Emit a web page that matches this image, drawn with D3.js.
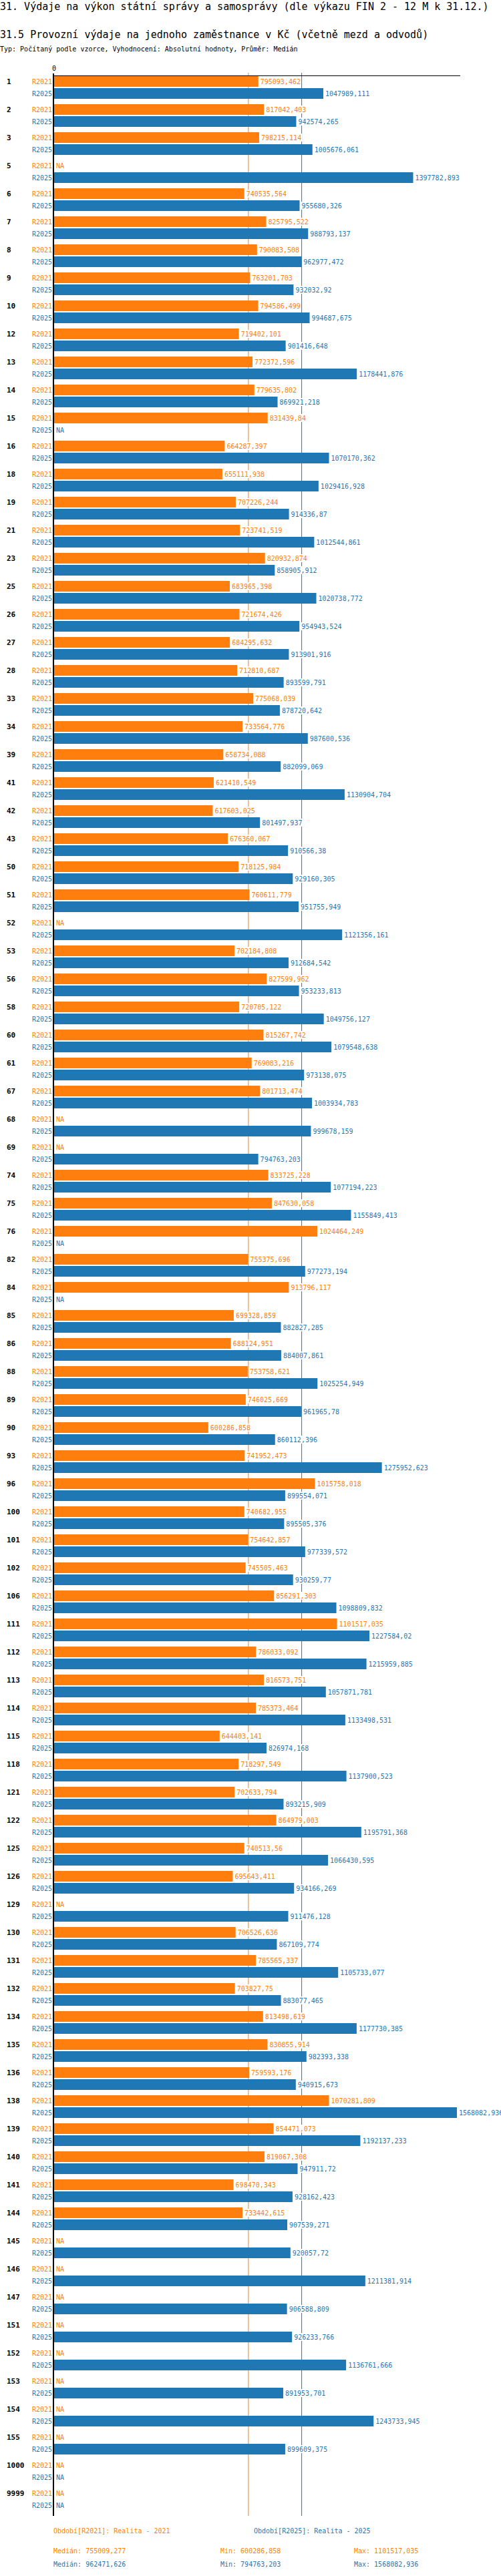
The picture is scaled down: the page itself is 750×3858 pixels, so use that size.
<!DOCTYPE html>
<html>
<head>
<meta charset="utf-8">
<script src="https://cdn.jsdelivr.net/npm/d3@7"></script>
<style>
  body { margin: 0; background: #fff; }
  text { font-family: "DejaVu Sans Mono", monospace; }
</style>
</head>
<body>
<div id="chart"></div>
<script>
// Category labels (obec ids) in the order shown
const groups = ["1","2","3","5","6","7","8","9","10","12","13","14","15","16","18","19","21","23",
  "25","26","27","28","33","34","39","41","42","43","50","51","52","53","56","58","60","61",
  "67","68","69","74","75","76","82","84","85","86","88","89","90","93","96","100","101","102",
  "106","111","112","113","114","115","118","121","122","125","126","129","130","131","132",
  "134","135","136","138","139","140","141","144","145","146","147","151","152","153","154",
  "155","1000","9999"];

// Series values, null = NA
const r2021 = [795093.462,817042.403,798215.114,null,740535.564,825795.522,790083.508,763201.703,
  794586.499,719402.101,772372.596,779635.802,831439.84,664287.397,655111.938,707226.244,
  723741.519,820932.874,683965.398,721674.426,684295.632,712810.687,775068.039,733564.776,
  658734.088,621410.549,617603.025,676360.067,718125.984,760611.779,null,702184.808,827599.962,
  720705.122,815267.742,769083.216,801713.474,null,null,833725.228,847630.058,1024464.249,
  755375.696,913796.117,699328.859,688124.951,753758.621,746025.669,600286.858,741952.473,
  1015758.018,740682.955,754642.857,745505.463,856291.303,1101517.035,786033.092,816573.751,
  785373.464,644403.141,718297.549,702633.794,864979.003,740513.56,695643.411,null,706526.636,
  785565.337,703827.75,813498.619,830855.914,759593.176,1070281.809,854471.073,819067.308,
  698470.343,733442.615,null,null,null,null,null,null,null,null,null,null];

const r2025 = [1047989.111,942574.265,1005676.061,1397782.893,955680.326,988793.137,962977.472,
  932032.92,994687.675,901416.648,1178441.876,869921.218,null,1070170.362,1029416.928,914336.87,
  1012544.861,858905.912,1020738.772,954943.524,913901.916,893599.791,878720.642,987600.536,
  882099.069,1130904.704,801497.937,910566.38,929160.305,951755.949,1121356.161,912684.542,
  953233.813,1049756.127,1079548.638,973138.075,1003934.783,999678.159,794763.203,1077194.223,
  1155849.413,null,977273.194,null,882827.285,884007.861,1025254.949,961965.78,860112.396,
  1275952.623,899554.071,895505.376,977339.572,930259.77,1098809.832,1227584.02,1215959.885,
  1057871.781,1133498.531,826974.168,1137900.523,893215.909,1195791.368,1066430.595,934166.269,
  911476.128,867109.774,1105733.077,883077.465,1177730.385,982393.338,940915.673,1568082.936,
  1192137.233,947911.72,928162.423,907539.271,920057.72,1211381.914,906588.809,926233.766,
  1136761.666,891953.701,1243733.945,899609.375,null,null];

const seriesNames = ["R2021", "R2025"];
const seriesTitles = ["Období[R2021]: Realita - 2021", "Období[R2025]: Realita - 2025"];

// Summary values printed under the chart
const medians = [755009.277, 962471.626];
const mins = [600286.858, 794763.203];
const maxs = [1101517.035, 1568082.936];

const colours = {R2021: "#ff7f0e", R2025: "#1f77b4"};
const fmt = v => String(v).replace(".", ",");

const width = 750, height = 3858;
const svg = d3.select("#chart").append("svg")
    .attr("width", width)
    .attr("height", height);

// Headings
svg.append("text").attr("x", 0).attr("y", 14.5)
  .style("font-size", "15px")
  .text("31. Výdaje na výkon státní správy a samosprávy (dle výkazu FIN 2 - 12 M k 31.12.)");
svg.append("text").attr("x", 0).attr("y", 57)
  .style("font-size", "15px")
  .text("31.5 Provozní výdaje na jednoho zaměstnance v Kč (včetně mezd a odvodů)");
svg.append("text").attr("x", 0).attr("y", 76.5)
  .style("font-size", "10px")
  .text("Typ: Počítaný podle vzorce, Vyhodnocení: Absolutní hodnoty, Průměr: Medián");

// Scales
const allValues = r2021.concat(r2025).filter(v => v != null);
const x = d3.scaleLinear().domain([0, d3.max(allValues)]).range([81, 684]);
const y = d3.scaleBand().domain(groups).range([114, 3768]);
const ySub = d3.scaleBand().domain(seriesNames).range([0, 34]).paddingInner(1 / 9);

// Rows: one per group and series
const rows = [];
groups.forEach((g, i) => {
  rows.push({group: g, series: "R2021", value: r2021[i]});
  rows.push({group: g, series: "R2025", value: r2025[i]});
});

// Median lines
svg.append("g").selectAll("line")
  .data(seriesNames)
  .join("line")
    .attr("x1", (_, i) => x(medians[i]) + 0.5)
    .attr("x2", (_, i) => x(medians[i]) + 0.5)
    .attr("y1", 109)
    .attr("y2", 3768)
    .attr("stroke", d => colours[d])
    .attr("stroke-width", 1);

// Bars
svg.append("g").selectAll("rect")
  .data(rows.filter(d => d.value != null))
  .join("rect")
    .attr("x", x(0))
    .attr("y", d => y(d.group) + ySub(d.series))
    .attr("width", d => x(d.value) - x(0))
    .attr("height", ySub.bandwidth())
    .attr("fill", d => colours[d.series]);

// Value labels with white background
const valG = svg.append("g").selectAll("g")
  .data(rows)
  .join("g")
    .attr("transform", d => {
      const xv = d.value == null ? x(0) : x(d.value);
      return `translate(${xv + 3},${y(d.group) + ySub(d.series) + ySub.bandwidth() / 2})`;
    });
valG.append("rect")
    .attr("x", -1)
    .attr("y", -6)
    .attr("height", 12)
    .attr("width", d => (d.value == null ? 2 : fmt(d.value).length) * 6.02 + 2)
    .attr("fill", "#fff");
valG.append("text")
    .attr("y", 4)
    .style("font-size", "10px")
    .attr("fill", d => colours[d.series])
    .text(d => d.value == null ? "NA" : fmt(d.value));

// Series labels left of axis
svg.append("g").selectAll("text")
  .data(rows)
  .join("text")
    .attr("x", 78)
    .attr("y", d => y(d.group) + ySub(d.series) + ySub.bandwidth() / 2 + 4)
    .attr("text-anchor", "end")
    .style("font-size", "10px")
    .attr("fill", d => colours[d.series])
    .text(d => d.series);

// Group labels
svg.append("g").selectAll("text")
  .data(groups)
  .join("text")
    .attr("x", 10)
    .attr("y", d => y(d) + ySub.bandwidth() / 2 + 4)
    .style("font-size", "11px")
    .style("font-weight", "bold")
    .text(d => d);

// Axis: vertical zero line, top line and the 0 tick label
svg.append("line")
  .attr("x1", 80).attr("x2", 80)
  .attr("y1", 110).attr("y2", 3768)
  .attr("stroke", "#000").attr("stroke-width", 2);
svg.append("line")
  .attr("x1", 80).attr("x2", 689)
  .attr("y1", 113.5).attr("y2", 113.5)
  .attr("stroke", "#000").attr("stroke-width", 1);
svg.append("text")
  .attr("x", x(0)).attr("y", 106)
  .attr("text-anchor", "middle")
  .style("font-size", "10px")
  .text("0");

// Legend and summary
const leg = svg.append("g").style("font-size", "10px");
leg.selectAll(".title")
  .data(seriesNames)
  .join("text")
    .attr("class", "title")
    .attr("x", (_, i) => i == 0 ? 80 : 380)
    .attr("y", 3794)
    .attr("fill", d => colours[d])
    .text((_, i) => seriesTitles[i]);

seriesNames.forEach((s, i) => {
  const yy = 3824 + i * 20;
  leg.append("text").attr("x", 80).attr("y", yy).attr("fill", colours[s])
    .text("Medián: " + fmt(medians[i]));
  leg.append("text").attr("x", 330).attr("y", yy).attr("fill", colours[s])
    .text("Min: " + fmt(mins[i]));
  leg.append("text").attr("x", 530).attr("y", yy).attr("fill", colours[s])
    .text("Max: " + fmt(maxs[i]));
});
</script>
</body>
</html>
